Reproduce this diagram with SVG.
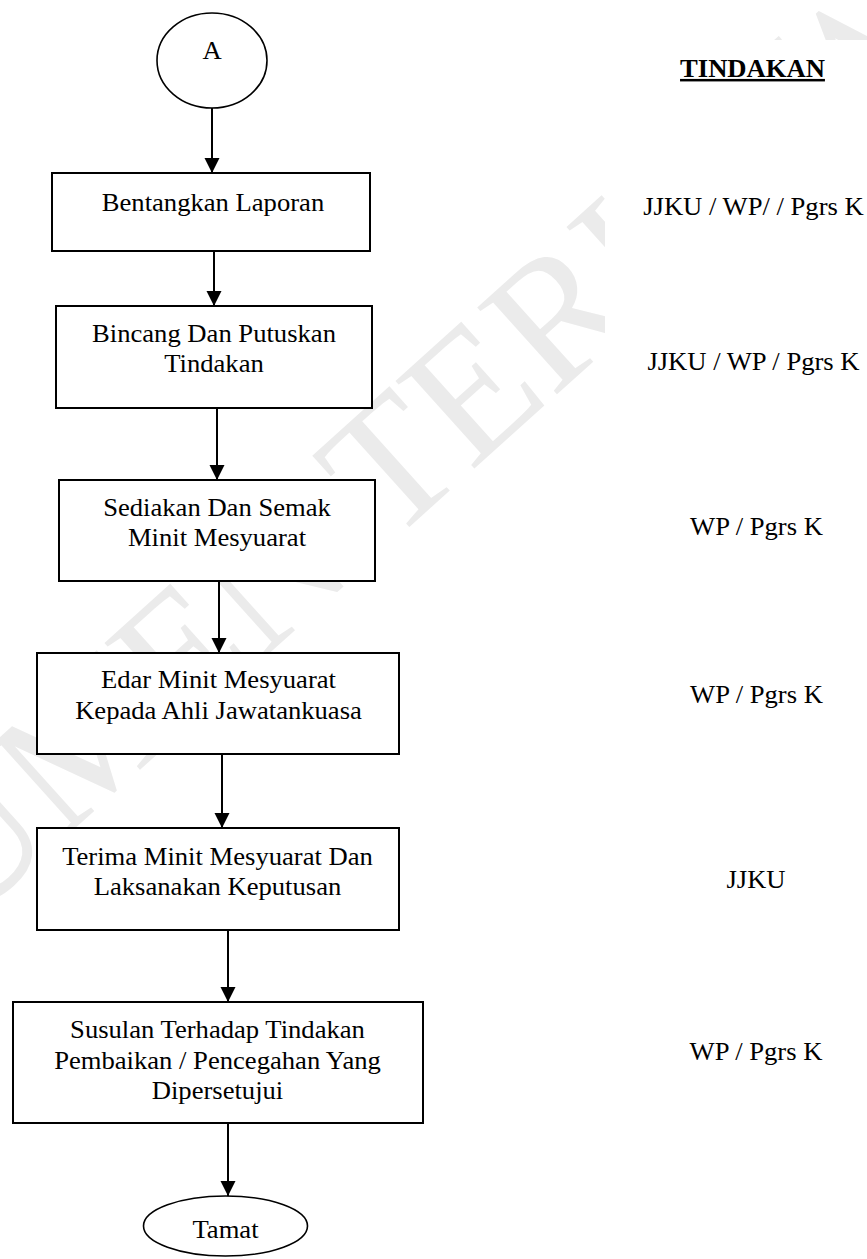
<svg xmlns="http://www.w3.org/2000/svg" width="867" height="1259" viewBox="0 0 867 1259">
  <defs>
    <style>
      .t { font-family: "Liberation Serif", "Times New Roman", serif; font-size: 25px; fill: #000; text-anchor: middle; }
      .b { font-weight: bold; text-decoration: underline; }
      .box { fill: #fff; stroke: #000; stroke-width: 2; }
      .term { fill: #fff; stroke: #000; stroke-width: 1.6; }
      .conn { stroke: #000; stroke-width: 2; fill: none; marker-end: url(#arr); }
      .wm { font-family: "Liberation Serif", "Times New Roman", serif; font-size: 180px; fill: #ebebeb; }
    </style>
    <marker id="arr" markerUnits="userSpaceOnUse" markerWidth="16" markerHeight="16" viewBox="0 0 16 16" refX="15" refY="8" orient="auto">
      <path d="M0,0.5 L15,8 L0,15.5 Z" fill="#000"/>
    </marker>
    <clipPath id="wmclip">
      <path d="M0,0 H867 V40 H605 V1259 H0 Z"/>
    </clipPath>
  </defs>
  <rect width="867" height="1259" fill="#fff"/>

  <g id="watermark" clip-path="url(#wmclip)">
    <text class="wm" transform="translate(392,462) rotate(-42)" x="-1020" y="60">DOKUMEN TERKAWAL</text>
  </g>

  <g id="connectors">
    <line class="conn" x1="212" y1="108" x2="212" y2="173"/>
    <line class="conn" x1="214" y1="251" x2="214" y2="306"/>
    <line class="conn" x1="217" y1="408" x2="217" y2="480"/>
    <line class="conn" x1="219" y1="581" x2="219" y2="653"/>
    <line class="conn" x1="222" y1="754" x2="222" y2="828"/>
    <line class="conn" x1="228" y1="930" x2="228" y2="1002"/>
    <line class="conn" x1="228" y1="1123" x2="228" y2="1196"/>
  </g>

  <g id="start">
    <ellipse class="term" cx="212" cy="60.5" rx="55" ry="47.5"/>
    <text class="t" transform="scale(1.065 1)" x="199.06" y="59">A</text>
  </g>

  <g id="step1">
    <rect class="box" x="52" y="173" width="318" height="78"/>
    <text class="t" transform="scale(1.065 1)" x="200" y="211">Bentangkan Laporan</text>
  </g>

  <g id="step2">
    <rect class="box" x="56" y="306" width="316" height="102"/>
    <text class="t" transform="scale(1.065 1)" x="200.94" y="342.5">Bincang Dan Putuskan</text>
    <text class="t" transform="scale(1.065 1)" x="200.94" y="372.5">Tindakan</text>
  </g>

  <g id="step3">
    <rect class="box" x="59" y="480" width="316" height="101"/>
    <text class="t" transform="scale(1.065 1)" x="203.76" y="516">Sediakan Dan Semak</text>
    <text class="t" transform="scale(1.065 1)" x="203.76" y="546.5">Minit Mesyuarat</text>
  </g>

  <g id="step4">
    <rect class="box" x="37" y="653" width="362" height="101"/>
    <text class="t" transform="scale(1.065 1)" x="205.16" y="688">Edar Minit Mesyuarat</text>
    <text class="t" transform="scale(1.065 1)" x="205.16" y="719.5">Kepada Ahli Jawatankuasa</text>
  </g>

  <g id="step5">
    <rect class="box" x="37" y="828" width="362" height="102"/>
    <text class="t" transform="scale(1.065 1)" x="204.23" y="865">Terima Minit Mesyuarat Dan</text>
    <text class="t" transform="scale(1.065 1)" x="204.23" y="895.5">Laksanakan Keputusan</text>
  </g>

  <g id="step6">
    <rect class="box" x="13" y="1002" width="410" height="121"/>
    <text class="t" transform="scale(1.065 1)" x="204.23" y="1038">Susulan Terhadap Tindakan</text>
    <text class="t" transform="scale(1.065 1)" x="204.23" y="1069">Pembaikan / Pencegahan Yang</text>
    <text class="t" transform="scale(1.065 1)" x="204.23" y="1099">Dipersetujui</text>
  </g>

  <g id="end">
    <ellipse class="term" cx="225.5" cy="1226" rx="82" ry="30"/>
    <text class="t" transform="scale(1.065 1)" x="211.74" y="1238">Tamat</text>
  </g>

  <g id="actions">
    <text class="t b" transform="scale(1.065 1)" x="706.57" y="77">TINDAKAN</text>
    <text class="t" transform="scale(1.065 1)" x="707.51" y="215">JJKU / WP/ / Pgrs K</text>
    <text class="t" transform="scale(1.065 1)" x="707.51" y="370">JJKU / WP / Pgrs K</text>
    <text class="t" transform="scale(1.065 1)" x="710.33" y="535">WP / Pgrs K</text>
    <text class="t" transform="scale(1.065 1)" x="710.33" y="703">WP / Pgrs K</text>
    <text class="t" transform="scale(1.065 1)" x="709.86" y="888">JJKU</text>
    <text class="t" transform="scale(1.065 1)" x="709.86" y="1060">WP / Pgrs K</text>
  </g>
</svg>
